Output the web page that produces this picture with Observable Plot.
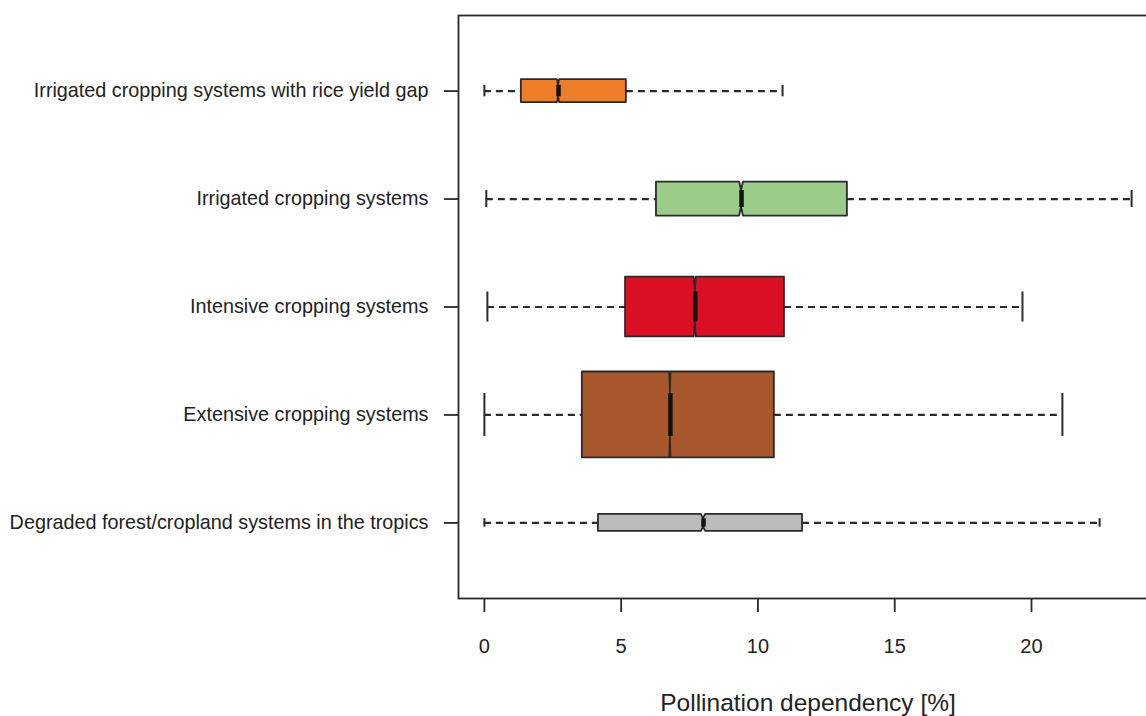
<!DOCTYPE html>
<html>
<head>
<meta charset="utf-8">
<script src="https://cdn.jsdelivr.net/npm/d3@7"></script>
<script src="https://cdn.jsdelivr.net/npm/@observablehq/plot@0.6"></script>
<style>
  html, body { margin: 0; padding: 0; background: #fff; overflow: hidden; }
  #chart svg { display: block; }
</style>
</head>
<body>
<div id="chart"></div>
<script>
// Categories, bottom to top
const categories = [
  "Degraded forest/cropland systems in the tropics",
  "Extensive cropping systems",
  "Intensive cropping systems",
  "Irrigated cropping systems",
  "Irrigated cropping systems with rice yield gap"
];
const whiskerLow  = [0.00, 0.00, 0.11, 0.07, 0.00];
const q1          = [4.17, 3.58, 5.16, 6.29, 1.35];
const median      = [8.01, 6.80, 7.71, 9.40, 2.71];
const q3          = [11.63, 10.60, 10.97, 13.27, 5.19];
const whiskerHigh = [22.49, 21.13, 19.67, 23.66, 10.90];
const notchHalf   = [0.08, 0.02, 0.04, 0.07, 0.04];   // half width of median confidence notch
const boxWidth    = [0.157, 0.796, 0.555, 0.315, 0.213]; // relative box thickness (varwidth)
const boxColors   = ["#BBBBBB", "#A8582C", "#DC1024", "#9CCC89", "#EE7D2A"];
const xTicks      = [0, 5, 10, 15, 20];
const xLabel      = "Pollination dependency [%]";

const boxes = categories.map((name, i) => ({
  name, pos: i + 1,
  wl: whiskerLow[i], q1: q1[i], med: median[i], q3: q3[i], wh: whiskerHigh[i],
  c1: median[i] - notchHalf[i], c2: median[i] + notchHalf[i],
  hw: boxWidth[i] / 2, color: boxColors[i]
}));

// notched outline points (derived from the stats)
const outline = boxes.flatMap(b => [
  {name: b.name, color: b.color, x: b.q1,  y1: b.pos - b.hw,   y2: b.pos + b.hw},
  {name: b.name, color: b.color, x: b.c1,  y1: b.pos - b.hw,   y2: b.pos + b.hw},
  {name: b.name, color: b.color, x: b.med, y1: b.pos - b.hw/2, y2: b.pos + b.hw/2},
  {name: b.name, color: b.color, x: b.c2,  y1: b.pos - b.hw,   y2: b.pos + b.hw},
  {name: b.name, color: b.color, x: b.q3,  y1: b.pos - b.hw,   y2: b.pos + b.hw}
]);

const dataMax = d3.max(whiskerHigh), dataMin = d3.min(whiskerLow);
const pad = 0.04 * (dataMax - dataMin);
const ink = "#2a2a2a";
const font = "'Liberation Sans', Arial, Helvetica, sans-serif";

const chart = Plot.plot({
  width: 1146,
  height: 716,
  marginLeft: 458,
  marginRight: -11,
  marginTop: 15,
  marginBottom: 118,
  style: {fontFamily: font, color: "#222", background: "#fff"},
  x: {domain: [dataMin - pad, dataMax + pad]},
  y: {domain: [0.3, 5.7]},
  color: {type: "identity"},
  marks: [
    Plot.frame({stroke: ink, strokeWidth: 1.8}),
    Plot.axisX({ticks: xTicks, tickSize: 14, tickPadding: 26, fontSize: 20, label: null, stroke: ink, strokeWidth: 1.8}),
    Plot.axisY({ticks: boxes.map(d => d.pos), tickFormat: p => categories[p - 1], tickSize: 14, tickPadding: 16, fontSize: 19.8, label: null, stroke: ink, strokeWidth: 1.8}),
    // whiskers
    Plot.ruleY(boxes, {y: "pos", x1: "wl", x2: "q1", stroke: ink, strokeWidth: 2.2, strokeDasharray: "7,5"}),
    Plot.ruleY(boxes, {y: "pos", x1: "q3", x2: "wh", stroke: ink, strokeWidth: 2.2, strokeDasharray: "7,5"}),
    // staples
    Plot.ruleX(boxes, {x: "wl", y1: d => d.pos - d.hw/2, y2: d => d.pos + d.hw/2, stroke: ink, strokeWidth: 2}),
    Plot.ruleX(boxes, {x: "wh", y1: d => d.pos - d.hw/2, y2: d => d.pos + d.hw/2, stroke: ink, strokeWidth: 2}),
    // notched boxes
    Plot.areaY(outline, {x: "x", y1: "y1", y2: "y2", z: "name", fill: "color", stroke: ink, strokeWidth: 1.8, strokeLinejoin: "round"}),
    // medians
    Plot.ruleX(boxes, {x: "med", y1: d => d.pos - d.hw/2, y2: d => d.pos + d.hw/2, stroke: "#111", strokeWidth: 4.5}),
    // axis title
    Plot.text([xLabel], {frameAnchor: "bottom", dy: 112, fontSize: 24.5, fill: "#222"})
  ]
});
document.getElementById("chart").appendChild(chart);
</script>
</body>
</html>
